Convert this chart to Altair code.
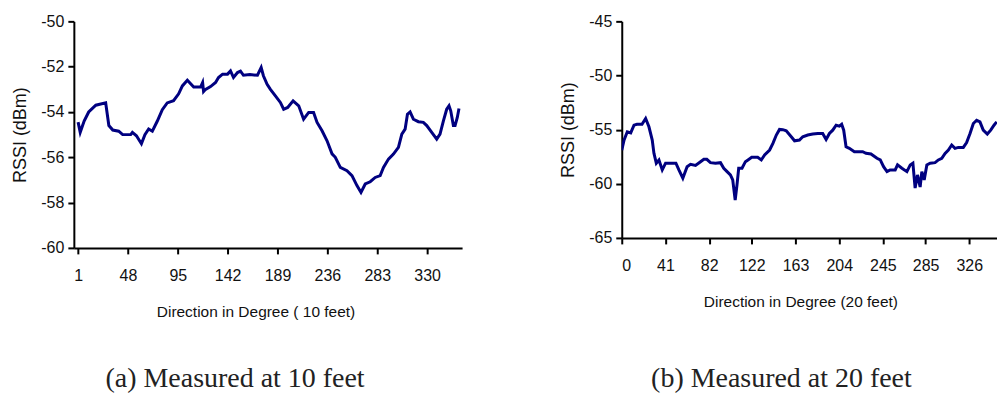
import altair as alt
import pandas as pd

# ---- data ----
deg10 = [1, 3, 6.7, 11, 17.7, 27, 30, 33.7, 39.3, 43, 50.6, 52.2, 56, 60.7, 64, 67.5, 71, 75.7,
         80.4, 85, 91, 95.8, 99.3, 104, 110, 116.5, 118.4, 119.3, 121.2, 125.9, 130.6, 133.4,
         137.2, 141.9, 144.7, 147.5, 151.3, 154.1, 156.9, 163, 170.1, 173.6, 175.7, 179.2, 182.3,
         187, 191.7, 194.8, 198.6, 203.7, 209, 213.6, 218.4, 223, 226.3, 231, 235.7, 240.4,
         243.5, 248.2, 254.5, 259.2, 263.9, 267.7, 271.7, 276.4, 281.1, 285.8, 288.9, 293.6,
         298.3, 303, 306.2, 309.3, 311.5, 314, 317.1, 321.8, 326.5, 329.7, 334.4, 339.1, 342.2,
         345.4, 348.5, 350.7, 352.3, 354.8, 356.4, 358.5, 360.1]
rssi10 = [-54.45, -54.9, -54.4, -54.0, -53.7, -53.6, -54.6, -54.8, -54.85, -55.0, -55.0, -54.9,
          -55.05, -55.4, -55.0, -54.75, -54.85, -54.4, -53.9, -53.6, -53.5, -53.2, -52.85, -52.6,
          -52.9, -52.9, -52.7, -53.1, -53.0, -52.88, -52.7, -52.48, -52.33, -52.33, -52.19,
          -52.48, -52.26, -52.2, -52.38, -52.35, -52.38, -52.04, -52.4, -52.78, -53.0, -53.29,
          -53.58, -53.88, -53.8, -53.51, -53.73, -54.32, -54.02, -54.02, -54.46, -54.83, -55.27,
          -55.85, -56.0, -56.45, -56.59, -56.81, -57.25, -57.55, -57.18, -57.08, -56.89, -56.81,
          -56.45, -56.08, -55.86, -55.56, -54.98, -54.76, -54.1, -54.0, -54.32, -54.43, -54.46,
          -54.6, -54.9, -55.2, -54.98, -54.39, -53.88, -53.73, -53.95, -54.6, -54.6, -54.24,
          -53.85]

deg20 = [0, 2.2, 5.2, 8.4, 11.5, 14.3, 19, 22.4, 25.5, 28.6, 30.2, 32.4, 34.9, 38, 41.1, 46.1,
         50.8, 53.6, 57.3, 61.3, 64.5, 69.2, 73.9, 77, 79.8, 83.2, 87.9, 92.6, 95.7, 98.8, 101.9,
         104.1, 106.4, 108.1, 109.7, 112.8, 116, 118.4, 121.9, 127.5, 130.9, 134, 138.7, 141.8,
         145, 148, 151.1, 154.3, 159, 162.1, 166.7, 169.8, 174.5, 179.2, 183.9, 188.5, 191.7,
         194.8, 197.9, 201.1, 204.2, 206.3, 208.2, 210.4, 213.5, 218.2, 226, 229.1, 233.8,
         239.4, 242.5, 245.6, 248.8, 251.8, 256.5, 258.7, 262.8, 267.5, 270.6, 273.1, 275.2,
         277.4, 279.9, 281.5, 283.7, 286.2, 289.3, 293.9, 297, 300.2, 303.3, 306.4, 309.5,
         312.6, 315.7, 320.4, 323.5, 326.7, 329.8, 332.9, 336, 339.1, 342.9, 346.1, 349.2, 351.7]
rssi20 = [-56.9, -55.96, -55.2, -55.3, -54.59, -54.5, -54.5, -53.97, -54.74, -55.96, -57.19,
          -58.1, -57.8, -58.72, -58.1, -58.1, -58.1, -58.72, -59.49, -58.42, -58.2, -58.3,
          -57.96, -57.74, -57.74, -58.05, -58.1, -58.05, -58.57, -58.88, -59.18, -59.64, -61.5,
          -60.1, -58.57, -58.57, -57.96, -57.8, -57.56, -57.56, -57.8, -57.34, -56.88, -56.27,
          -55.5, -54.98, -55.0, -55.1, -55.66, -56.03, -55.96, -55.66, -55.5, -55.41, -55.35,
          -55.35, -55.9, -55.35, -55.05, -54.59, -54.68, -54.5, -55.05, -56.58, -56.73, -57.04,
          -57.04, -57.19, -57.25, -57.65, -57.8, -58.42, -58.88, -58.72, -58.72, -58.26, -58.57,
          -58.88, -58.26, -58.1, -60.4, -59.18, -60.3, -58.88, -59.64, -58.26, -58.1, -58.05,
          -57.8, -57.65, -57.19, -56.88, -56.42, -56.73, -56.64, -56.64, -56.2, -55.35, -54.43,
          -54.13, -54.28, -55.05, -55.41, -55.05, -54.59, -54.28]

ticks10 = [1, 48, 95, 142, 189, 236, 283, 330]
ticks20 = [0, 41, 82, 122, 163, 204, 245, 285, 326]
yticks10 = [-60, -58, -56, -54, -52, -50]
yticks20 = [-65, -60, -55, -50, -45]

df10 = pd.DataFrame({"deg": deg10, "rssi": rssi10})
df20 = pd.DataFrame({"deg": deg20, "rssi": rssi20})

LINE = "#000080"
SANS = "Liberation Sans"


def panel(df, xdom, xticks, ydom, yticks, xtitle, title_x, caption, w, h, cap_offset, cap_dx):
    return alt.Chart(df).mark_line(color=LINE, strokeWidth=3, clip=True).encode(
        x=alt.X("deg:Q",
                scale=alt.Scale(domain=xdom, nice=False, zero=False),
                axis=alt.Axis(values=xticks, title=xtitle, titleX=title_x,
                              labelExpr="'' + datum.value")),
        y=alt.Y("rssi:Q",
                scale=alt.Scale(domain=ydom, nice=False, zero=False),
                axis=alt.Axis(values=yticks, title="RSSI (dBm)", labelExpr="'' + datum.value")),
    ).properties(
        width=w, height=h,
        title=alt.TitleParams(caption, orient="bottom", anchor="middle", offset=cap_offset,
                              dx=cap_dx, font="Liberation Serif", fontSize=28,
                              fontWeight="normal", color="#222"),
    )


left = panel(df10, [-3, 363], ticks10, [-60, -50], yticks10,
             "Direction in Degree ( 10 feet)", 182, "(a) Measured at 10 feet", 389, 227, 45, -33)
right = panel(df20, [0, 352], ticks20, [-65, -45], yticks20,
              "Direction in Degree (20 feet)", 179, "(b) Measured at 20 feet", 376, 217, 55, -28)

chart = alt.hconcat(left, right, spacing=97).properties(
    padding={"left": 11, "top": 13, "right": 0, "bottom": 0},
    background="white",
).configure_view(stroke=None).configure_axis(
    grid=False,
    domainColor="black", domainWidth=2,
    tickColor="black", tickWidth=2, tickSize=6,
    labelFont=SANS, labelFontSize=16, labelColor="#111",
    titleFont=SANS, titleFontSize=15.5, titleFontWeight="normal", titleColor="#111",
).configure_axisX(
    labelPadding=14, titlePadding=21,
).configure_axisY(
    titleFontSize=18, titlePadding=11, labelPadding=4,
)

chart.save("out.html", embed_options={"renderer": "svg", "actions": False})
